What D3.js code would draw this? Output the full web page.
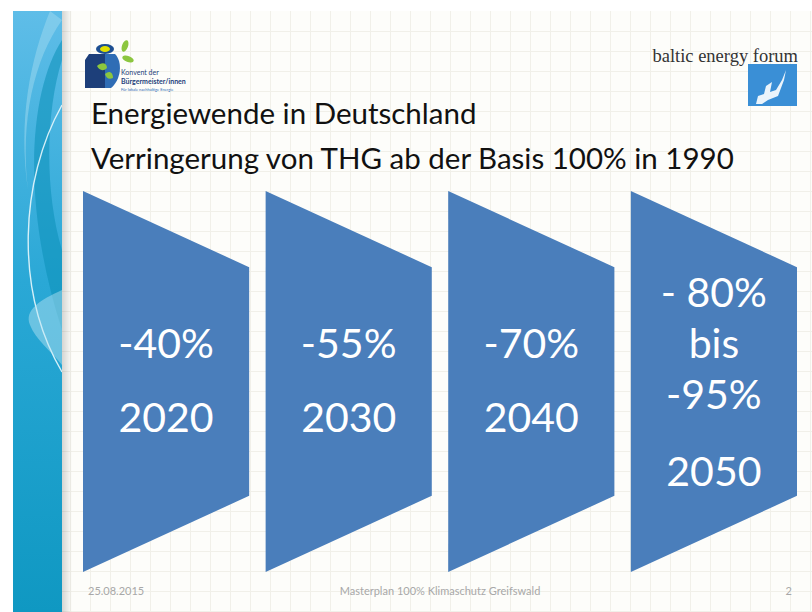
<!DOCTYPE html>
<html lang="de">
<head>
<meta charset="UTF-8">
<title>Energiewende in Deutschland</title>
<script src="https://d3js.org/d3.v7.min.js"></script>
<style>
  body { margin: 0; background: #fff; }
  text { font-family: Lato, "Open Sans", sans-serif; }
</style>
</head>
<body>
<svg id="slide" width="812" height="612"></svg>
<script>
// data
var years = ["2020", "2030", "2040", "2050"];
var reductionLabels = [["-40%"], ["-55%"], ["-70%"], ["- 80%", "bis", "-95%"]];
var titleLines = ["Energiewende in Deutschland", "Verringerung von THG ab der Basis 100% in 1990"];
var footerTexts = ["25.08.2015", "Masterplan 100% Klimaschutz Greifswald", "2"];

var svg = d3.select("#slide"),
    W = 812, H = 612;

var defs = svg.append("defs");

var stripeGrad = defs.append("linearGradient").attr("id", "stripe")
    .attr("x1", 0).attr("y1", 0).attr("x2", 0).attr("y2", 1);
stripeGrad.append("stop").attr("offset", "0%").attr("stop-color", "#5fbde8");
stripeGrad.append("stop").attr("offset", "45%").attr("stop-color", "#2aa8d6");
stripeGrad.append("stop").attr("offset", "100%").attr("stop-color", "#0f98c2");

var shadowGrad = defs.append("linearGradient").attr("id", "shadow")
    .attr("x1", 0).attr("y1", 0).attr("x2", 1).attr("y2", 0);
shadowGrad.append("stop").attr("offset", "0%").attr("stop-color", "#000").attr("stop-opacity", 0.16);
shadowGrad.append("stop").attr("offset", "100%").attr("stop-color", "#000").attr("stop-opacity", 0);

// slide background with faint grid
svg.append("rect").attr("x", 13).attr("y", 11).attr("width", W - 13).attr("height", H - 11)
    .attr("fill", "#fdfdfa");

var grid = svg.append("g").attr("stroke", "#f1f0e9").attr("stroke-width", 1);
d3.range(70, W, 20).forEach(function (x) {
    grid.append("line").attr("x1", x + 0.5).attr("x2", x + 0.5).attr("y1", 11).attr("y2", H);
});
d3.range(31, H, 20).forEach(function (y) {
    grid.append("line").attr("x1", 62).attr("x2", W).attr("y1", y + 0.5).attr("y2", y + 0.5);
});

// left decorative stripe
svg.append("rect").attr("x", 13).attr("y", 11).attr("width", 49).attr("height", H - 11)
    .attr("fill", "url(#stripe)");
svg.append("path")
    .attr("d", "M62,40 C30,90 20,200 62,330 L62,250 C44,190 46,110 62,60 Z")
    .attr("fill", "#0b8fb8").attr("opacity", 0.55);
svg.append("path")
    .attr("d", "M62,105 C20,180 14,290 62,372")
    .attr("fill", "none").attr("stroke", "#e8f7fc").attr("stroke-width", 1.4).attr("opacity", 0.9);
svg.append("path")
    .attr("d", "M50,11 C30,60 18,120 28,190 C20,120 34,60 62,20 Z")
    .attr("fill", "#9fd9f0").attr("opacity", 0.5);
svg.append("path")
    .attr("d", "M62,290 C40,300 24,310 30,325 C36,340 50,350 62,365 Z")
    .attr("fill", "#bfe6f4").attr("opacity", 0.45);
svg.append("rect").attr("x", 62).attr("y", 11).attr("width", 10).attr("height", H - 11)
    .attr("fill", "url(#shadow)");

// Konvent logo (top left)
var logo = svg.append("g").attr("transform", "translate(85,40)");
logo.append("path").attr("d", "M4,14 L20,14 L20,48 L0,48 L0,20 Z").attr("fill", "#1d3f7a");
logo.append("path").attr("d", "M20,14 L30,14 C38,22 36,40 26,48 L20,48 Z").attr("fill", "#2f6db5");
logo.append("path").attr("d", "M12,26 C16,22 22,22 22,28 C18,32 14,30 12,26 Z").attr("fill", "#8cc63f");
logo.append("path").attr("d", "M20,34 C24,30 28,32 28,38 C24,40 21,38 20,34 Z").attr("fill", "#8cc63f");
logo.append("ellipse").attr("cx", 20).attr("cy", 9).attr("rx", 9).attr("ry", 5).attr("fill", "#1d4f91");
logo.append("ellipse").attr("cx", 20).attr("cy", 9).attr("rx", 5).attr("ry", 3).attr("fill", "#e1e000");
logo.append("ellipse").attr("cx", 40).attr("cy", 6).attr("rx", 3).attr("ry", 6).attr("fill", "#8cc63f")
    .attr("transform", "rotate(20,40,6)");
logo.append("ellipse").attr("cx", 43).attr("cy", 19).attr("rx", 6).attr("ry", 3).attr("fill", "#8cc63f")
    .attr("transform", "rotate(20,43,19)");
logo.append("text").attr("x", 36).attr("y", 35).attr("font-size", 7).attr("fill", "#1d3f7a")
    .text("Konvent der");
logo.append("text").attr("x", 36).attr("y", 44).attr("font-size", 7).attr("fill", "#1d3f7a")
    .attr("font-weight", "bold").text("Bürgermeister/innen");
logo.append("text").attr("x", 36).attr("y", 51).attr("font-size", 4).attr("fill", "#2f6db5")
    .text("Für lokale nachhaltige Energie");

// baltic energy forum logo (top right)
var bef = svg.append("g");
bef.append("rect").attr("x", 748).attr("y", 64).attr("width", 49).attr("height", 42).attr("fill", "#3a8fd6");
bef.append("path")
    .attr("d", "M756,104 L758,96 L764,94 L766,86 L772,82 L770,92 L776,90 L782,80 L786,70 L784,80 L778,96 L768,100 L762,104 Z")
    .attr("fill", "#fff").attr("opacity", 0.9);
bef.append("text").attr("x", 798).attr("y", 62).attr("text-anchor", "end")
    .style("font-family", "'Liberation Serif', serif").attr("font-size", 18.5).attr("fill", "#333")
    .text("baltic energy forum");

// title
svg.selectAll(".title").data(titleLines).enter().append("text")
    .attr("class", "title")
    .attr("x", 91)
    .attr("y", function (d, i) { return 124 + i * 45; })
    .attr("font-size", 29.5)
    .attr("fill", "#111")
    .text(function (d) { return d; });

// shapes
var x = d3.scaleBand().domain(years).range([83, 797]).paddingInner(0.09);
var y = d3.scaleLinear().domain([0, 1]).range([191, 572]);
var notch = 0.2; // right side inset, fraction of the height

var shapes = svg.selectAll(".step").data(years).enter().append("g").attr("class", "step");

shapes.append("path")
    .attr("fill", "#4a7ebb")
    .attr("d", function (d) {
        var x0 = x(d), x1 = x(d) + x.bandwidth();
        return d3.line()([
            [x0, y(0)], [x1, y(notch)], [x1, y(1 - notch)], [x0, y(1)]
        ]) + "Z";
    });

var valueY = [[358], [358], [358], [307, 358, 409]];
var yearY = [432, 432, 432, 486];

shapes.each(function (d, i) {
    var g = d3.select(this), cx = x(d) + x.bandwidth() / 2;
    reductionLabels[i].forEach(function (t, j) {
        g.append("text").attr("x", cx).attr("y", valueY[i][j])
            .attr("text-anchor", "middle").attr("font-size", 41).attr("fill", "#fff").text(t);
    });
    g.append("text").attr("x", cx).attr("y", yearY[i])
        .attr("text-anchor", "middle").attr("font-size", 41).attr("fill", "#fff").text(d);
});

// footer
var footerX = [88, 440, 792], footerAnchor = ["start", "middle", "end"];
svg.selectAll(".footer").data(footerTexts).enter().append("text")
    .attr("class", "footer")
    .attr("x", function (d, i) { return footerX[i]; })
    .attr("y", 595)
    .attr("text-anchor", function (d, i) { return footerAnchor[i]; })
    .attr("font-size", 11)
    .attr("fill", "#a8a8a8")
    .text(function (d) { return d; });
</script>
</body>
</html>
